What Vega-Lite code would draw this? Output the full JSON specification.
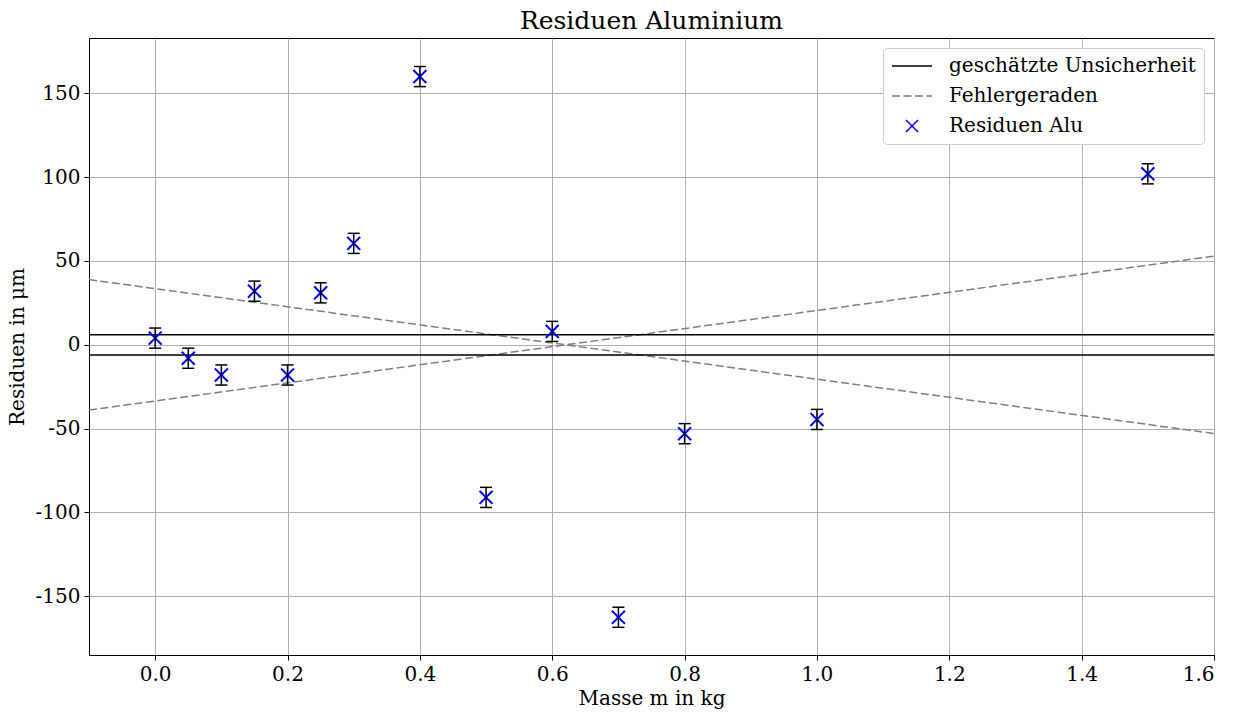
{
  "$schema": "https://vega.github.io/schema/vega-lite/v6.json",
  "autosize": {"type": "none"},
  "padding": {"left": 89, "top": 38, "right": 28, "bottom": 58},
  "width": 1125,
  "height": 617,
  "background": "white",
  "title": {"text": "Residuen Aluminium", "font": "DejaVu Serif", "fontSize": 25, "fontWeight": "normal", "color": "black", "offset": 4, "anchor": "middle"},
  "config": {
    "view": {"stroke": "black", "strokeWidth": 1},
    "axis": {
      "labelFont": "DejaVu Serif", "labelFontSize": 20, "labelColor": "black",
      "titleFont": "DejaVu Serif", "titleFontSize": 20, "titleFontWeight": "normal", "titleColor": "black",
      "domainColor": "black", "tickColor": "black", "tickSize": 5, "labelPadding": 4,
      "gridColor": "#b0b0b0", "gridWidth": 1, "gridOpacity": 1
    },
    "legend": {
      "labelFont": "DejaVu Serif", "labelFontSize": 20, "labelColor": "black", "labelLimit": 500
    }
  },
  "datasets": {
    "pts": [
      {"m": 0.0, "r": 4, "lo": -2, "hi": 10, "series": "Residuen Alu"},
      {"m": 0.05, "r": -8, "lo": -14, "hi": -2, "series": "Residuen Alu"},
      {"m": 0.1, "r": -18, "lo": -24, "hi": -12, "series": "Residuen Alu"},
      {"m": 0.15, "r": 32, "lo": 26, "hi": 38, "series": "Residuen Alu"},
      {"m": 0.2, "r": -18, "lo": -24, "hi": -12, "series": "Residuen Alu"},
      {"m": 0.25, "r": 31, "lo": 25, "hi": 37, "series": "Residuen Alu"},
      {"m": 0.3, "r": 60.5, "lo": 54.5, "hi": 66.5, "series": "Residuen Alu"},
      {"m": 0.4, "r": 160, "lo": 154, "hi": 166, "series": "Residuen Alu"},
      {"m": 0.5, "r": -91, "lo": -97, "hi": -85, "series": "Residuen Alu"},
      {"m": 0.6, "r": 8, "lo": 2, "hi": 14, "series": "Residuen Alu"},
      {"m": 0.7, "r": -162.5, "lo": -168.5, "hi": -156.5, "series": "Residuen Alu"},
      {"m": 0.8, "r": -53, "lo": -59, "hi": -47, "series": "Residuen Alu"},
      {"m": 1.0, "r": -44.5, "lo": -50.5, "hi": -38.5, "series": "Residuen Alu"},
      {"m": 1.5, "r": 102, "lo": 96, "hi": 108, "series": "Residuen Alu"}
    ],
    "lines": [
      {"m": -0.1, "r": 38.9, "id": "a", "series": "Fehlergeraden"},
      {"m": 1.6, "r": -52.9, "id": "a", "series": "Fehlergeraden"},
      {"m": -0.1, "r": -38.9, "id": "b", "series": "Fehlergeraden"},
      {"m": 1.6, "r": 52.9, "id": "b", "series": "Fehlergeraden"}
    ],
    "unc": [
      {"r": 6, "series": "geschätzte Unsicherheit"},
      {"r": -6, "series": "geschätzte Unsicherheit"}
    ]
  },
  "encoding": {
    "x": {"field": "m", "type": "quantitative",
      "scale": {"domain": [-0.1, 1.6], "nice": false, "zero": false},
      "axis": {"title": "Masse m in kg", "values": [0, 0.2, 0.4, 0.6, 0.8, 1.0, 1.2, 1.4, 1.6], "format": ".1f", "titlePadding": 4}},
    "y": {"field": "r", "type": "quantitative",
      "scale": {"domain": [-185, 183], "nice": false, "zero": false},
      "axis": {"title": "Residuen in μm", "values": [-150, -100, -50, 0, 50, 100, 150], "labelExpr": "'' + datum.value", "titlePadding": 8}}
  },
  "layer": [
    {
      "data": {"name": "lines"},
      "mark": {"type": "line", "strokeWidth": 1.5, "clip": true},
      "encoding": {
        "detail": {"field": "id"},
        "color": {"field": "series", "type": "nominal",
          "scale": {"domain": ["geschätzte Unsicherheit", "Fehlergeraden", "Residuen Alu"], "range": ["black", "#808080", "blue"]},
          "legend": {"title": null, "orient": "top-right", "offset": 10, "padding": 8, "strokeColor": "#cccccc", "fillColor": "white", "cornerRadius": 4, "symbolSize": 1600, "clipHeight": 20, "rowPadding": 10, "labelOffset": 16, "symbolStrokeWidth": 1.5}},
        "strokeDash": {"field": "series", "type": "nominal",
          "scale": {"domain": ["geschätzte Unsicherheit", "Fehlergeraden", "Residuen Alu"], "range": [[1, 0], [8, 3.5], [1, 0]]},
          "legend": {"title": null}}
      }
    },
    {
      "data": {"name": "unc"},
      "mark": {"type": "rule", "strokeWidth": 1.5},
      "encoding": {
        "x": {"value": 0},
        "x2": {"value": 1125},
        "color": {"field": "series", "type": "nominal"},
        "strokeDash": {"field": "series", "type": "nominal"}
      }
    },
    {
      "data": {"name": "pts"},
      "mark": {"type": "point", "filled": false, "strokeWidth": 2, "size": 1880, "opacity": 1},
      "encoding": {
        "color": {"field": "series", "type": "nominal"},
        "strokeDash": {"field": "series", "type": "nominal"},
        "shape": {"field": "series", "type": "nominal",
          "scale": {"domain": ["geschätzte Unsicherheit", "Fehlergeraden", "Residuen Alu"], "range": ["stroke", "stroke", "M-0.3,-0.3L0.3,0.3M0.3,-0.3L-0.3,0.3"]},
          "legend": {"title": null}}
      }
    },
    {
      "data": {"name": "pts"},
      "mark": {"type": "errorbar", "color": "black", "opacity": 1, "ticks": {"size": 12, "thickness": 1.5, "color": "black", "opacity": 1}, "rule": {"strokeWidth": 1.5, "color": "black", "opacity": 1}},
      "encoding": {
        "y": {"field": "lo", "type": "quantitative"},
        "y2": {"field": "hi"}
      }
    }
  ]
}
